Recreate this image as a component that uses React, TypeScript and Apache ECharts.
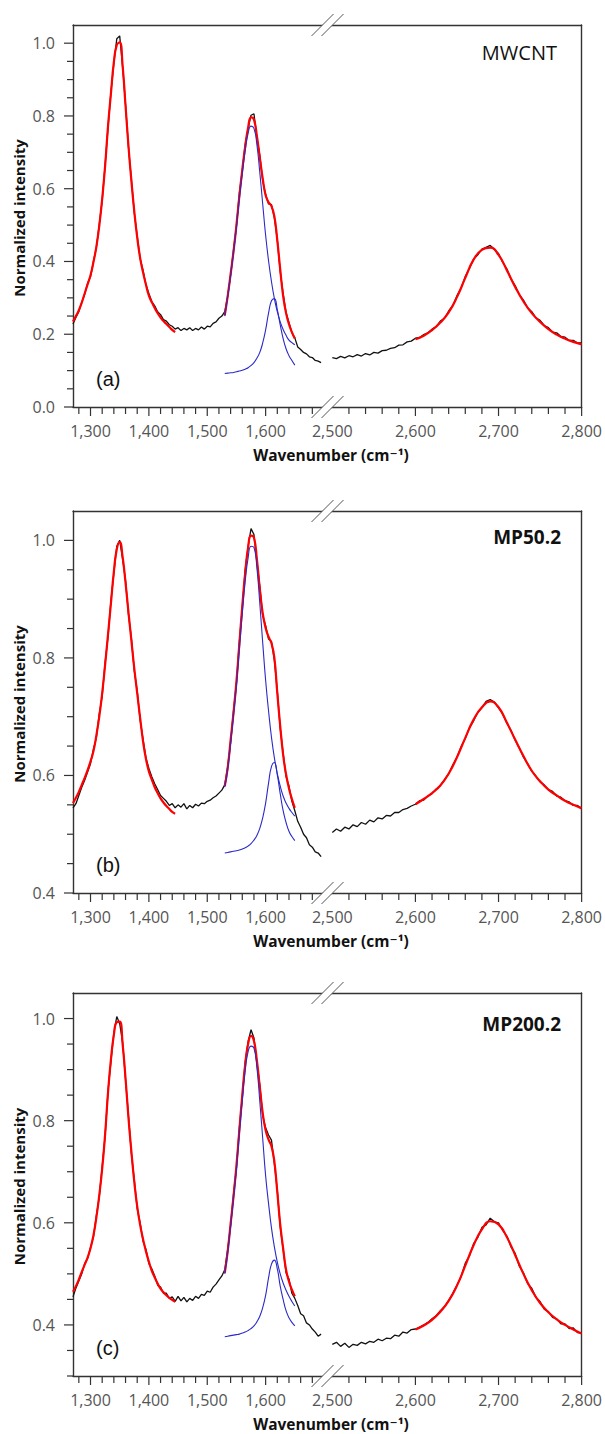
import React, { useEffect, useRef } from "react";
import * as echarts from "echarts";

// ---------- shared wavenumber grids (cm-1) ----------
const WN_LEFT = [
  1270, 1275, 1280, 1285, 1290, 1295, 1300, 1305, 1310, 1315,
  1320, 1325, 1330, 1335, 1340, 1345, 1350, 1355, 1360, 1365,
  1370, 1375, 1380, 1385, 1390, 1395, 1400, 1405, 1410, 1415,
  1420, 1425, 1430, 1435, 1440, 1445, 1450, 1455, 1460, 1465,
  1470, 1475, 1480, 1485, 1490, 1495, 1500, 1505, 1510, 1515,
  1520, 1525, 1530, 1535, 1540, 1545, 1550, 1555, 1560, 1565,
  1570, 1575, 1580, 1585, 1590, 1595, 1600, 1605, 1610, 1615,
  1620, 1625, 1630, 1635, 1640, 1645, 1650, 1655, 1660, 1665,
  1670, 1675, 1680, 1685, 1690, 1695,
];
const WN_RIGHT = [
  2500, 2505, 2510, 2515, 2520, 2525, 2530, 2535, 2540, 2545,
  2550, 2555, 2560, 2565, 2570, 2575, 2580, 2585, 2590, 2595,
  2600, 2605, 2610, 2615, 2620, 2625, 2630, 2635, 2640, 2645,
  2650, 2655, 2660, 2665, 2670, 2675, 2680, 2685, 2690, 2695,
  2700, 2705, 2710, 2715, 2720, 2725, 2730, 2735, 2740, 2745,
  2750, 2755, 2760, 2765, 2770, 2775, 2780, 2785, 2790, 2795,
  2800,
];
const WN_D = [
  1270, 1275, 1280, 1285, 1290, 1295, 1300, 1305, 1310, 1315,
  1320, 1325, 1330, 1335, 1340, 1345, 1350, 1355, 1360, 1365,
  1370, 1375, 1380, 1385, 1390, 1395, 1400, 1405, 1410, 1415,
  1420, 1425, 1430, 1435, 1440, 1445,
];
const WN_G = [
  1530, 1535, 1540, 1545, 1550, 1555, 1560, 1565, 1570, 1575,
  1580, 1585, 1590, 1595, 1600, 1605, 1610, 1615, 1620, 1625,
  1630, 1635, 1640, 1645, 1650,
];
const WN_2D = [
  2600, 2610, 2620, 2630, 2640, 2650, 2660, 2670, 2680, 2690,
  2700, 2710, 2720, 2730, 2740, 2750, 2760, 2770, 2780, 2790, 2800,
];

// ---------- tick / label values ----------
const XTICK_LEFT = [1280, 1300, 1320, 1340, 1360, 1380, 1400, 1420, 1440, 1460, 1480, 1500, 1520, 1540, 1560, 1580, 1600, 1620, 1640, 1660, 1680];
const XLABEL_LEFT = [1300, 1400, 1500, 1600];
const XTICK_RIGHT = [2520, 2540, 2560, 2580, 2600, 2620, 2640, 2660, 2680, 2700, 2720, 2740, 2760, 2780, 2800];
const XLABEL_RIGHT = [2500, 2600, 2700, 2800];
const YTICK_A = [0, 0.05, 0.1, 0.15, 0.2, 0.25, 0.3, 0.35, 0.4, 0.45, 0.5, 0.55, 0.6, 0.65, 0.7, 0.75, 0.8, 0.85, 0.9, 0.95, 1.0];
const YLABEL_A = [0, 0.2, 0.4, 0.6, 0.8, 1.0];
const YTICK_B = [0.4, 0.45, 0.5, 0.55, 0.6, 0.65, 0.7, 0.75, 0.8, 0.85, 0.9, 0.95, 1.0];
const YLABEL_B = [0.4, 0.6, 0.8, 1.0];
const YTICK_C = [0.3, 0.35, 0.4, 0.45, 0.5, 0.55, 0.6, 0.65, 0.7, 0.75, 0.8, 0.85, 0.9, 0.95, 1.0];
const YLABEL_C = [0.4, 0.6, 0.8, 1.0];

// ---------- panel (a) MWCNT ----------
const A_BLACK_L = [
  0.228, 0.246, 0.262, 0.288, 0.310, 0.340, 0.358, 0.400, 0.438, 0.502,
  0.568, 0.665, 0.768, 0.866, 0.945, 1.012, 1.020, 0.935, 0.832, 0.714,
  0.626, 0.534, 0.470, 0.408, 0.376, 0.336, 0.312, 0.290, 0.278, 0.262,
  0.254, 0.240, 0.236, 0.226, 0.222, 0.214, 0.218, 0.210, 0.216, 0.212,
  0.218, 0.210, 0.216, 0.212, 0.220, 0.214, 0.222, 0.220, 0.230, 0.234,
  0.244, 0.250, 0.262, 0.305, 0.362, 0.432, 0.498, 0.588, 0.650, 0.722,
  0.765, 0.802, 0.806, 0.742, 0.692, 0.622, 0.584, 0.558, 0.556, 0.520,
  0.460, 0.372, 0.312, 0.260, 0.232, 0.204, 0.190, 0.165, 0.158, 0.150,
  0.146, 0.138, 0.136, 0.128, 0.126, 0.122,
];
const A_BLACK_R = [
  0.136, 0.133, 0.139, 0.135, 0.141, 0.138, 0.144, 0.140, 0.147, 0.143,
  0.150, 0.148, 0.155, 0.156, 0.161, 0.163, 0.170, 0.171, 0.179, 0.181,
  0.189, 0.191, 0.199, 0.204, 0.214, 0.221, 0.236, 0.244, 0.264, 0.279,
  0.306, 0.327, 0.359, 0.381, 0.407, 0.418, 0.434, 0.439, 0.444, 0.433,
  0.422, 0.398, 0.380, 0.352, 0.334, 0.309, 0.294, 0.273, 0.262, 0.245,
  0.238, 0.224, 0.218, 0.206, 0.204, 0.194, 0.192, 0.183, 0.183, 0.176,
  0.176,
];
const A_FIT_D = [
  0.235, 0.250, 0.266, 0.287, 0.312, 0.337, 0.362, 0.398, 0.440, 0.498,
  0.572, 0.662, 0.772, 0.862, 0.948, 0.995, 1.002, 0.938, 0.828, 0.718,
  0.622, 0.538, 0.466, 0.410, 0.370, 0.336, 0.306, 0.288, 0.272, 0.258,
  0.246, 0.236, 0.228, 0.220, 0.212, 0.206,
];
const A_FIT_G = [
  0.252, 0.305, 0.365, 0.428, 0.500, 0.580, 0.652, 0.716, 0.768, 0.796,
  0.790, 0.745, 0.686, 0.628, 0.582, 0.563, 0.552, 0.524, 0.458, 0.378,
  0.305, 0.258, 0.228, 0.206, 0.188,
];
const A_COMP_G = [
  0.250, 0.303, 0.362, 0.424, 0.494, 0.572, 0.642, 0.705, 0.752, 0.772,
  0.766, 0.722, 0.645, 0.558, 0.472, 0.402, 0.345, 0.298, 0.262, 0.234,
  0.213, 0.197, 0.184, 0.177, 0.171,
];
const A_COMP_DP = [
  0.092, 0.093, 0.094, 0.095, 0.097, 0.099, 0.101, 0.104, 0.108, 0.114,
  0.122, 0.134, 0.150, 0.176, 0.212, 0.258, 0.292, 0.298, 0.268, 0.226,
  0.188, 0.160, 0.141, 0.128, 0.115,
];
const A_FIT_2D = [
  0.186, 0.196, 0.211, 0.232, 0.260, 0.302, 0.355, 0.405, 0.432, 0.438,
  0.418, 0.376, 0.330, 0.290, 0.258, 0.234, 0.214, 0.199, 0.188, 0.179, 0.172,
];

// ---------- panel (b) MP50.2 ----------
const B_BLACK_L = [
  0.545, 0.552, 0.566, 0.580, 0.592, 0.606, 0.620, 0.645, 0.664, 0.705,
  0.735, 0.792, 0.836, 0.898, 0.944, 0.990, 1.000, 0.968, 0.932, 0.874,
  0.834, 0.778, 0.744, 0.694, 0.662, 0.630, 0.612, 0.598, 0.586, 0.576,
  0.566, 0.561, 0.556, 0.549, 0.552, 0.545, 0.550, 0.546, 0.552, 0.543,
  0.549, 0.545, 0.551, 0.548, 0.553, 0.552, 0.556, 0.558, 0.562, 0.565,
  0.570, 0.575, 0.584, 0.615, 0.656, 0.710, 0.757, 0.828, 0.885, 0.950,
  0.990, 1.020, 1.010, 0.965, 0.922, 0.872, 0.855, 0.832, 0.828, 0.796,
  0.744, 0.680, 0.638, 0.598, 0.582, 0.556, 0.540, 0.522, 0.512, 0.500,
  0.494, 0.482, 0.478, 0.470, 0.468, 0.462,
];
const B_BLACK_R = [
  0.503, 0.509, 0.505, 0.512, 0.509, 0.516, 0.513, 0.520, 0.517, 0.524,
  0.521, 0.528, 0.526, 0.532, 0.531, 0.537, 0.537, 0.542, 0.544, 0.548,
  0.551, 0.557, 0.558, 0.565, 0.569, 0.577, 0.583, 0.593, 0.603, 0.618,
  0.631, 0.649, 0.663, 0.681, 0.693, 0.707, 0.715, 0.726, 0.729, 0.725,
  0.715, 0.705, 0.689, 0.677, 0.660, 0.647, 0.631, 0.620, 0.607, 0.599,
  0.589, 0.584, 0.576, 0.573, 0.565, 0.563, 0.557, 0.555, 0.549, 0.549,
  0.544,
];
const B_FIT_D = [
  0.553, 0.562, 0.572, 0.584, 0.596, 0.609, 0.624, 0.641, 0.668, 0.700,
  0.740, 0.788, 0.840, 0.893, 0.947, 0.985, 0.997, 0.972, 0.928, 0.878,
  0.830, 0.782, 0.740, 0.698, 0.658, 0.628, 0.607, 0.593, 0.580, 0.570,
  0.561, 0.554, 0.548, 0.543, 0.538, 0.535,
];
const B_FIT_G = [
  0.582, 0.613, 0.660, 0.707, 0.760, 0.824, 0.888, 0.945, 0.988, 1.008,
  1.005, 0.968, 0.918, 0.876, 0.851, 0.836, 0.825, 0.800, 0.740, 0.684,
  0.635, 0.602, 0.578, 0.560, 0.545,
];
const B_COMP_G = [
  0.580, 0.610, 0.655, 0.702, 0.753, 0.815, 0.876, 0.930, 0.970, 0.990,
  0.988, 0.954, 0.893, 0.826, 0.762, 0.710, 0.665, 0.630, 0.603, 0.582,
  0.565, 0.553, 0.544, 0.537, 0.531,
];
const B_COMP_DP = [
  0.468, 0.469, 0.470, 0.471, 0.472, 0.473, 0.475, 0.477, 0.480, 0.484,
  0.490, 0.498, 0.510, 0.528, 0.553, 0.587, 0.615, 0.622, 0.601, 0.569,
  0.540, 0.520, 0.505, 0.496, 0.489,
];
const B_FIT_2D = [
  0.551, 0.560, 0.570, 0.583, 0.603, 0.631, 0.664, 0.695, 0.716, 0.726,
  0.716, 0.690, 0.661, 0.633, 0.608, 0.590, 0.576, 0.566, 0.557, 0.550, 0.544,
];

// ---------- panel (c) MP200.2 ----------
const C_BLACK_L = [
  0.455, 0.472, 0.486, 0.500, 0.520, 0.530, 0.552, 0.572, 0.614, 0.650,
  0.710, 0.770, 0.858, 0.916, 0.972, 1.004, 0.990, 0.954, 0.880, 0.810,
  0.736, 0.684, 0.628, 0.600, 0.564, 0.548, 0.520, 0.510, 0.496, 0.478,
  0.474, 0.462, 0.462, 0.452, 0.455, 0.446, 0.456, 0.447, 0.454, 0.445,
  0.452, 0.448, 0.456, 0.452, 0.460, 0.458, 0.466, 0.464, 0.474, 0.480,
  0.488, 0.496, 0.508, 0.548, 0.595, 0.656, 0.708, 0.786, 0.846, 0.915,
  0.955, 0.978, 0.962, 0.914, 0.870, 0.810, 0.786, 0.772, 0.762, 0.716,
  0.664, 0.592, 0.548, 0.502, 0.490, 0.462, 0.452, 0.438, 0.422, 0.418,
  0.404, 0.400, 0.392, 0.386, 0.378, 0.382,
];
const C_BLACK_R = [
  0.362, 0.366, 0.358, 0.364, 0.356, 0.362, 0.360, 0.366, 0.363, 0.368,
  0.366, 0.372, 0.369, 0.374, 0.373, 0.380, 0.378, 0.386, 0.384, 0.391,
  0.392, 0.396, 0.400, 0.405, 0.412, 0.418, 0.428, 0.436, 0.448, 0.462,
  0.478, 0.495, 0.521, 0.535, 0.559, 0.571, 0.591, 0.596, 0.609, 0.602,
  0.600, 0.585, 0.574, 0.553, 0.540, 0.515, 0.502, 0.481, 0.472, 0.454,
  0.446, 0.431, 0.426, 0.415, 0.412, 0.402, 0.402, 0.393, 0.394, 0.385,
  0.384,
];
const C_FIT_D = [
  0.465, 0.476, 0.489, 0.504, 0.518, 0.532, 0.550, 0.575, 0.610, 0.654,
  0.706, 0.773, 0.855, 0.920, 0.968, 0.993, 0.994, 0.950, 0.883, 0.806,
  0.740, 0.680, 0.632, 0.596, 0.568, 0.544, 0.524, 0.506, 0.493, 0.481,
  0.471, 0.464, 0.458, 0.453, 0.449, 0.445,
];
const C_FIT_G = [
  0.502, 0.544, 0.598, 0.652, 0.712, 0.782, 0.850, 0.910, 0.950, 0.966,
  0.956, 0.918, 0.866, 0.815, 0.781, 0.763, 0.750, 0.720, 0.660, 0.597,
  0.550, 0.508, 0.485, 0.469, 0.456,
];
const C_COMP_G = [
  0.500, 0.541, 0.594, 0.647, 0.705, 0.774, 0.840, 0.898, 0.935, 0.946,
  0.942, 0.905, 0.838, 0.765, 0.692, 0.638, 0.590, 0.553, 0.523, 0.500,
  0.482, 0.468, 0.456, 0.446, 0.437,
];
const C_COMP_DP = [
  0.377, 0.378, 0.379, 0.380, 0.381, 0.382, 0.384, 0.386, 0.389, 0.393,
  0.398, 0.406, 0.417, 0.434, 0.458, 0.492, 0.519, 0.527, 0.510, 0.476,
  0.450, 0.428, 0.414, 0.405, 0.398,
];
const C_FIT_2D = [
  0.391, 0.399, 0.410, 0.426, 0.447, 0.477, 0.516, 0.556, 0.587, 0.603,
  0.597, 0.572, 0.537, 0.500, 0.468, 0.443, 0.425, 0.411, 0.400, 0.391, 0.383,
];

const SAMPLE_NAMES = ["MWCNT", "MP50.2", "MP200.2"];
const PANEL_TAGS = ["(a)", "(b)", "(c)"];

const PANEL_DATA = [
  { blackL: A_BLACK_L, blackR: A_BLACK_R, fitD: A_FIT_D, fitG: A_FIT_G, compG: A_COMP_G, compDP: A_COMP_DP, fit2D: A_FIT_2D, yMin: 0, yMax: 1.05, yTicks: YTICK_A, yLabels: YLABEL_A },
  { blackL: B_BLACK_L, blackR: B_BLACK_R, fitD: B_FIT_D, fitG: B_FIT_G, compG: B_COMP_G, compDP: B_COMP_DP, fit2D: B_FIT_2D, yMin: 0.4, yMax: 1.05, yTicks: YTICK_B, yLabels: YLABEL_B },
  { blackL: C_BLACK_L, blackR: C_BLACK_R, fitD: C_FIT_D, fitG: C_FIT_G, compG: C_COMP_G, compDP: C_COMP_DP, fit2D: C_FIT_2D, yMin: 0.3, yMax: 1.05, yTicks: YTICK_C, yLabels: YLABEL_C },
];

// ---------- layout (pixels) ----------
const LAYOUT = [
  { top: 25, height: 382, nameY: 52, nameBold: false, nameSize: 20, nameRight: 557 },
  { top: 511, height: 382, nameY: 537, nameBold: true, nameSize: 19, nameRight: 561 },
  { top: 993, height: 383, nameY: 1024, nameBold: true, nameSize: 19, nameRight: 561 },
];
const LEFT_X = 73;
const LEFT_W = 251;
const RIGHT_X = 324;
const RIGHT_W = 258;
const LEFT_RANGE = [1270, 1700];
const RIGHT_RANGE = [2490, 2800];

const AXIS_COLOR = "#333";
const LABEL_COLOR = "#555";
const FONT = "'Open Sans', 'DejaVu Sans', sans-serif";

const pairs = (xs: number[], ys: number[]) => xs.map((x, i) => [x, ys[i]]);
const fmtThousands = (v: number) => {
  const s = String(Math.round(v));
  return s.length > 3 ? s.slice(0, s.length - 3) + "," + s.slice(s.length - 3) : s;
};
const near = (a: number, list: number[]) => list.some((b) => Math.abs(a - b) < 1e-6);

function buildOption() {
  const grid: any[] = [];
  const xAxis: any[] = [];
  const yAxis: any[] = [];
  const series: any[] = [];
  const graphic: any[] = [];

  LAYOUT.forEach((L, p) => {
    const D = PANEL_DATA[p];
    grid.push({ left: LEFT_X, top: L.top, width: LEFT_W, height: L.height });
    grid.push({ left: RIGHT_X, top: L.top, width: RIGHT_W, height: L.height });

    [0, 1].forEach((side) => {
      const range = side === 0 ? LEFT_RANGE : RIGHT_RANGE;
      const labels = side === 0 ? XLABEL_LEFT : XLABEL_RIGHT;
      const gi = p * 2 + side;
      xAxis.push({
        type: "value",
        gridIndex: gi,
        min: range[0],
        max: range[1],
        position: "bottom",
        axisLine: { show: true, onZero: false, lineStyle: { color: AXIS_COLOR, width: 1.4 } },
        axisTick: { show: false },
        axisLabel: { show: true, customValues: labels, margin: 16, fontSize: 16, fontFamily: FONT, color: LABEL_COLOR, formatter: (v: number) => fmtThousands(v) },
        splitLine: { show: false },
      });
      xAxis.push({
        type: "value",
        gridIndex: gi,
        min: range[0],
        max: range[1],
        position: "top",
        axisLine: { show: true, onZero: false, lineStyle: { color: AXIS_COLOR, width: 1.4 } },
        axisTick: { show: false },
        axisLabel: { show: false },
        splitLine: { show: false },
      });
    });

    yAxis.push({
      type: "value",
      gridIndex: p * 2,
      min: D.yMin,
      max: D.yMax,
      position: "left",
      axisLine: { show: true, onZero: false, lineStyle: { color: AXIS_COLOR, width: 1.4 } },
      axisTick: { show: false },
      axisLabel: { show: true, customValues: D.yLabels, margin: 18, fontSize: 16, fontFamily: FONT, color: LABEL_COLOR, formatter: (v: number) => v.toFixed(1) },
      splitLine: { show: false },
    });
    yAxis.push({
      type: "value",
      gridIndex: p * 2 + 1,
      min: D.yMin,
      max: D.yMax,
      position: "right",
      axisLine: { show: true, onZero: false, lineStyle: { color: AXIS_COLOR, width: 1.4 } },
      axisTick: { show: false },
      axisLabel: { show: false },
      splitLine: { show: false },
    });

    const xl = p * 4;
    const xr = p * 4 + 2;
    const yl = p * 2;
    const yr = p * 2 + 1;
    const line = (data: any[], xi: number, yi: number, color: string, width: number, z: number, smooth = false) => ({
      type: "line",
      xAxisIndex: xi,
      yAxisIndex: yi,
      data,
      showSymbol: false,
      symbol: "none",
      smooth,
      z,
      lineStyle: { color, width },
      silent: true,
    });
    series.push(line(pairs(WN_LEFT, D.blackL), xl, yl, "#111", 1.3, 2));
    series.push(line(pairs(WN_RIGHT, D.blackR), xr, yr, "#111", 1.3, 2));
    series.push(line(pairs(WN_D, D.fitD), xl, yl, "#ff0000", 2.2, 3, true));
    series.push(line(pairs(WN_G, D.fitG), xl, yl, "#ff0000", 2.2, 3, true));
    series.push(line(pairs(WN_2D, D.fit2D), xr, yr, "#ff0000", 2.2, 3, true));
    series.push(line(pairs(WN_G, D.compG), xl, yl, "#2a2ac8", 1.1, 4, true));
    series.push(line(pairs(WN_G, D.compDP), xl, yl, "#2a2ac8", 1.1, 4, true));

    // axis ticks drawn through the axes' own scales
    const xTickSeries = (ticks: number[], labels: number[], xi: number, yi: number) => ({
      type: "custom",
      coordinateSystem: "cartesian2d",
      xAxisIndex: xi,
      yAxisIndex: yi,
      silent: true,
      clip: false,
      z: 6,
      data: ticks.map((t) => [t, D.yMin]),
      renderItem: (_params: any, api: any) => {
        const v = api.value(0);
        const pt = api.coord([v, api.value(1)]);
        const len = near(v, labels) ? 9 : 7;
        return { type: "line", shape: { x1: pt[0], y1: pt[1], x2: pt[0], y2: pt[1] + len }, style: { stroke: AXIS_COLOR, lineWidth: 1.2 } };
      },
    });
    series.push(xTickSeries(XTICK_LEFT, XLABEL_LEFT, xl, yl));
    series.push(xTickSeries(XTICK_RIGHT, XLABEL_RIGHT, xr, yr));
    series.push({
      type: "custom",
      coordinateSystem: "cartesian2d",
      xAxisIndex: xl,
      yAxisIndex: yl,
      silent: true,
      clip: false,
      z: 6,
      data: D.yTicks.map((t) => [LEFT_RANGE[0], t]),
      renderItem: (_params: any, api: any) => {
        const v = api.value(1);
        const pt = api.coord([api.value(0), v]);
        const len = near(v, D.yLabels) ? 9 : 6;
        return { type: "line", shape: { x1: pt[0] - len, y1: pt[1], x2: pt[0], y2: pt[1] }, style: { stroke: AXIS_COLOR, lineWidth: 1.2 } };
      },
    });

    // axis-break marks
    const bottom = L.top + L.height;
    [L.top, bottom].forEach((cy) => {
      const cx = 327.5;
      graphic.push({
        type: "polygon",
        z: 100,
        shape: { points: [[cx - 16, cy + 11], [cx + 6, cy - 11], [cx + 16, cy - 11], [cx - 6, cy + 11]] },
        style: { fill: "#fff" },
      });
      [-5, 5].forEach((dx) => {
        graphic.push({
          type: "line",
          z: 101,
          shape: { x1: cx + dx - 11, y1: cy + 11, x2: cx + dx + 11, y2: cy - 11 },
          style: { stroke: "#555", lineWidth: 1 },
        });
      });
    });

    // texts
    graphic.push({
      type: "text",
      z: 102,
      x: LEFT_X + 23,
      y: bottom - 28,
      style: { text: PANEL_TAGS[p], font: "20px 'Liberation Sans', Arial, sans-serif", fill: "#111", align: "left", verticalAlign: "middle", textAlign: "left", textVerticalAlign: "middle" },
    });
    graphic.push({
      type: "text",
      z: 102,
      x: L.nameRight,
      y: L.nameY,
      style: { text: SAMPLE_NAMES[p], font: `${L.nameBold ? "bold " : ""}${L.nameSize}px ${FONT}`, fill: "#111", align: "right", verticalAlign: "middle", textAlign: "right", textVerticalAlign: "middle" },
    });
    graphic.push({
      type: "text",
      z: 102,
      x: 331,
      y: bottom + 48,
      style: { text: "Wavenumber (cm\u207B\u00B9)", font: `bold 15.5px ${FONT}`, fill: "#111", align: "center", verticalAlign: "middle", textAlign: "center", textVerticalAlign: "middle" },
    });
    graphic.push({
      type: "text",
      z: 102,
      x: 19,
      y: L.top + L.height / 2 + 2,
      rotation: Math.PI / 2,
      style: { text: "Normalized intensity", font: `bold 15px ${FONT}`, fill: "#111", align: "center", verticalAlign: "middle", textAlign: "center", textVerticalAlign: "middle" },
    });
  });

  return {
    backgroundColor: "#ffffff",
    animation: false,
    grid,
    xAxis,
    yAxis,
    series,
    graphic,
  };
}

export default function App() {
  const ref = useRef<HTMLDivElement>(null);
  useEffect(() => {
    if (!ref.current) return;
    const chart = echarts.init(ref.current, null, { renderer: "svg" });
    chart.setOption(buildOption() as any);
    return () => chart.dispose();
  }, []);
  return <div ref={ref} style={{ position: "absolute", left: 0, top: 0, width: 605, height: 1434 }} />;
}
